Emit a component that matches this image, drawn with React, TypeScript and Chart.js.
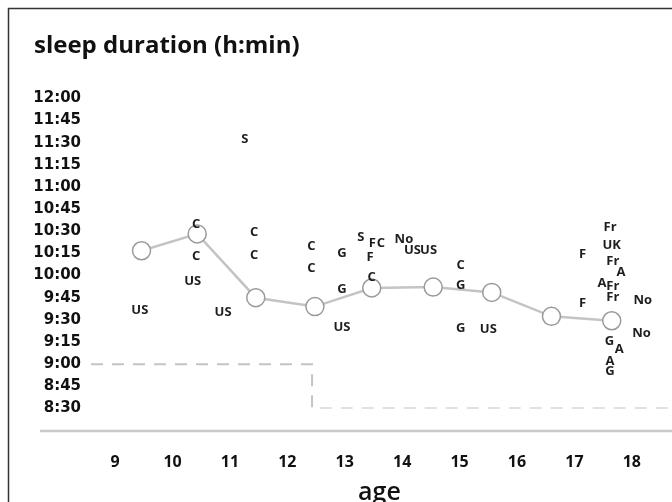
import { useEffect, useRef } from "react";
import { Chart, registerables } from "chart.js";

Chart.register(...registerables);

// ---- data ----
const ageTicks = [9, 10, 11, 12, 13, 14, 15, 16, 17, 18];
const timeTickValues = [8.5, 8.75, 9, 9.25, 9.5, 9.75, 10, 10.25, 10.5, 10.75, 11, 11.25, 11.5, 11.75, 12];
const timeTickLabels = ["8:30", "8:45", "9:00", "9:15", "9:30", "9:45", "10:00", "10:15", "10:30", "10:45", "11:00", "11:15", "11:30", "11:45", "12:00"];

// mean sleep per age group (hours, decimal)
const groupAges = [9.46, 10.43, 11.45, 12.48, 13.47, 14.54, 15.56, 16.6, 17.65];
const groupSleep = [10.28, 10.47, 9.75, 9.65, 9.86, 9.87, 9.81, 9.54, 9.49];

// recommended sleep (step)
const recAges = [8.58, 12.43, 12.43, 18.63];
const recSleep = [9.0, 9.0, 8.5, 8.5];

// individual studies (country codes)
const studyCodes = [
  "US", "C", "C", "US", "S", "C", "C", "US",
  "C", "C", "G", "G", "US", "S", "F", "C", "F", "C",
  "No", "US", "US", "C", "G", "G", "US",
  "Fr", "UK", "F", "Fr", "A", "A", "Fr", "Fr", "No", "F", "No", "G", "A", "A", "G",
];
const studyAges = [
  9.43, 10.41, 10.41, 10.35, 11.26, 11.42, 11.42, 10.88,
  12.42, 12.42, 12.95, 12.95, 12.95, 13.28, 13.48, 13.63, 13.44, 13.47,
  14.03, 14.18, 14.46, 15.02, 15.02, 15.02, 15.5,
  17.62, 17.65, 17.14, 17.67, 17.81, 17.48, 17.67, 17.67, 18.19, 17.14, 18.17, 17.61, 17.78, 17.62, 17.62,
];
const studySleep = [
  9.61, 10.58, 10.22, 9.94, 11.54, 10.49, 10.23, 9.58,
  10.33, 10.08, 10.25, 9.84, 9.42, 10.43, 10.36, 10.36, 10.21, 9.98,
  10.41, 10.28, 10.28, 10.12, 9.89, 9.4, 9.39,
  10.54, 10.34, 10.24, 10.16, 10.04, 9.91, 9.88, 9.76, 9.72, 9.69, 9.35, 9.26, 9.17, 9.03, 8.92,
];

const FAMILY = '"Open Sans", "DejaVu Sans", sans-serif';

const decorPlugin = {
  id: "decor",
  beforeDraw(chart: any) {
    const ctx = chart.ctx;
    ctx.save();
    ctx.fillStyle = "#ffffff";
    ctx.fillRect(0, 0, chart.width, chart.height);
    ctx.strokeStyle = "#333333";
    ctx.lineWidth = 1.5;
    ctx.beginPath();
    ctx.moveTo(8.5, chart.height);
    ctx.lineTo(8.5, 8.5);
    ctx.lineTo(chart.width, 8.5);
    ctx.stroke();
    ctx.fillStyle = "#111111";
    ctx.font = `bold 24px ${FAMILY}`;
    ctx.textAlign = "left";
    ctx.textBaseline = "middle";
    ctx.fillText("sleep duration (h:min)", 34, 46);
    ctx.restore();
  },
  afterDraw(chart: any) {
    const ctx = chart.ctx;
    const a = chart.chartArea;
    ctx.save();
    ctx.strokeStyle = "#c8c8c8";
    ctx.lineWidth = 2.5;
    ctx.beginPath();
    ctx.moveTo(40, a.bottom + 22.5);
    ctx.lineTo(chart.width, a.bottom + 22.5);
    ctx.stroke();
    ctx.restore();
  },
  afterDatasetsDraw(chart: any) {
    const ctx = chart.ctx;
    const meta = chart.getDatasetMeta(2);
    ctx.save();
    ctx.font = `bold 13px ${FAMILY}`;
    ctx.fillStyle = "#1e1e1e";
    ctx.textAlign = "center";
    ctx.textBaseline = "middle";
    meta.data.forEach((pt: any, i: number) => {
      ctx.fillText(studyCodes[i], pt.x, pt.y);
    });
    ctx.restore();
  },
};

export default function App() {
  const ref = useRef<HTMLCanvasElement | null>(null);

  useEffect(() => {
    if (!ref.current) return;
    const chart = new Chart(ref.current, {
      type: "line",
      data: {
        datasets: [
          {
            label: "mean",
            data: groupAges.map((x, i) => ({ x, y: groupSleep[i] })),
            borderColor: "#c4c4c4",
            borderWidth: 2.5,
            pointRadius: 9,
            pointBackgroundColor: "#ffffff",
            pointBorderColor: "#9a9a9a",
            pointBorderWidth: 1.5,
            tension: 0,
          },
          {
            label: "recommended",
            data: recAges.map((x, i) => ({ x, y: recSleep[i] })),
            borderColor: "#c4c4c4",
            borderWidth: 2,
            borderDash: [12, 9],
            pointRadius: 0,
            tension: 0,
          },
          {
            label: "studies",
            data: studyAges.map((x, i) => ({ x, y: studySleep[i] })),
            showLine: false,
            pointRadius: 0,
          },
        ],
      },
      options: {
        animation: false,
        responsive: false,
        layout: { autoPadding: false, padding: { left: 0, right: 4, top: 98.3, bottom: 0 } },
        plugins: { legend: { display: false }, tooltip: { enabled: false } },
        scales: {
          x: {
            type: "linear",
            min: 8.58,
            max: 18.63,
            afterBuildTicks: (s: any) => {
              s.ticks = ageTicks.map((v) => ({ value: v }));
            },
            afterFit: (s: any) => {
              s.height = 93.5;
              s.paddingLeft = 0;
              s.paddingRight = 0;
            },
            grid: { display: false, drawTicks: true, tickLength: 44 },
            border: { display: false },
            ticks: {
              autoSkip: false,
              maxRotation: 0,
              padding: 0,
              color: "#111111",
              font: { family: FAMILY, size: 16, weight: "bold" },
              callback: (v: any) => String(v),
            },
            title: {
              display: true,
              text: "age",
              color: "#111111",
              padding: 0,
              font: { family: FAMILY, size: 25, weight: "600", lineHeight: "18px" },
            },
          },
          y: {
            type: "linear",
            min: 8.5,
            max: 12,
            afterBuildTicks: (s: any) => {
              s.ticks = timeTickValues.map((v) => ({ value: v }));
            },
            afterFit: (s: any) => {
              s.width = 91;
            },
            grid: { display: false, drawTicks: true, tickLength: 8 },
            border: { display: false },
            ticks: {
              autoSkip: false,
              padding: 2,
              color: "#111111",
              font: { family: '"DejaVu Sans", sans-serif', size: 15, weight: "bold" },
              callback: (v: any) => {
                const i = timeTickValues.indexOf(Number(v));
                return i >= 0 ? timeTickLabels[i] : "";
              },
            },
          },
        },
      },
      plugins: [decorPlugin],
    } as any);
    return () => chart.destroy();
  }, []);

  return (
    <div style={{ position: "fixed", left: 0, top: 0, width: 672, height: 502 }}>
      <canvas ref={ref} width={672} height={502} style={{ display: "block", width: 672, height: 502 }} />
    </div>
  );
}
